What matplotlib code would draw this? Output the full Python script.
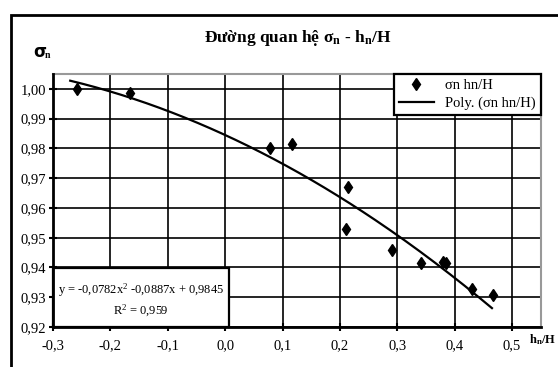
import numpy as np
import matplotlib
matplotlib.use("Agg")
import matplotlib.pyplot as plt
from matplotlib.patches import Rectangle

plt.rcParams['font.family'] = ['Liberation Serif', 'DejaVu Serif']
plt.rcParams['mathtext.fontset'] = 'custom'
plt.rcParams['mathtext.rm'] = 'Liberation Serif'
plt.rcParams['mathtext.it'] = 'Liberation Serif'
plt.rcParams['mathtext.bf'] = 'Liberation Serif:bold'

# data
x_pts = [-0.259, -0.166, 0.078, 0.116, 0.2145, 0.210, 0.290, 0.3405, 0.380, 0.385, 0.4295, 0.466]
y_pts = [1.000, 0.9986, 0.980, 0.9815, 0.967, 0.953, 0.946, 0.9415, 0.9418, 0.9415, 0.9328, 0.9308]
coef = [-0.0782, -0.0887, 0.9845]
x_ticks = [-0.3, -0.2, -0.1, 0.0, 0.1, 0.2, 0.3, 0.4, 0.5]
y_ticks = [0.92, 0.93, 0.94, 0.95, 0.96, 0.97, 0.98, 0.99, 1.00]

W, H = 558, 367
fig = plt.figure(figsize=(W/100, H/100), dpi=100)
axw, axh = 541-53, 327-74
ax = fig.add_axes([53/W, 1-327/H, axw/W, axh/H])

xs = np.linspace(-0.27, 0.465, 200)
ys = np.polyval(coef, xs)
ax.plot(xs, ys, color='black', lw=1.6, label='Poly. (σn hn/H)', zorder=3)
ax.plot(x_pts, y_pts, linestyle='none', marker='d', markersize=6, color='black',
        label='σn hn/H', zorder=4)

ax.set_xlim(-0.3, 0.5505)
ax.set_ylim(0.92, 1.005)
ax.set_xticks(x_ticks)
ax.set_yticks(y_ticks)
ax.set_xticklabels([f"{v:.1f}".replace('.', ',') for v in x_ticks], fontsize=10.5)
ax.set_yticklabels([f"{v:.2f}".replace('.', ',') for v in y_ticks], fontsize=10.5)
ax.tick_params(direction='inout', length=6, width=1.5, pad=6)
ax.tick_params(axis='y', pad=2)
ax.grid(True, color='black', lw=1.2)
ax.set_axisbelow(True)
for s in ['left', 'bottom']:
    ax.spines[s].set_linewidth(2)
    ax.spines[s].set_color('black')
    ax.spines[s].set_zorder(6)
for s in ['top', 'right']:
    ax.spines[s].set_linewidth(1.5)
    ax.spines[s].set_color('#999999')

h, l = ax.get_legend_handles_labels()
leg = ax.legend(h[::-1], l[::-1], loc='upper right', bbox_to_anchor=(1.0, 1.0),
                fontsize=10.5, frameon=True, fancybox=False, edgecolor='black',
                framealpha=1, borderpad=0.35, handlelength=2.4, borderaxespad=0,
                labelspacing=0.3)
leg.get_frame().set_linewidth(1.6)

# equation box
bw, bh = 176/axw, 59/axh
ax.add_patch(Rectangle((0, 0), bw, bh, transform=ax.transAxes, fc='white', ec='black',
                       lw=1.6, zorder=5, clip_on=False))
ax.text(bw/2, bh*0.63, 'y = -0,0782x$^2$ -0,0887x + 0,9845', transform=ax.transAxes,
        fontsize=9, ha='center', va='center', zorder=6)
ax.text(bw/2, bh*0.27, '$\\mathregular{R^2}$ = 0,959', transform=ax.transAxes,
        fontsize=9, ha='center', va='center', zorder=6)

# outer frame
fig.patches.append(Rectangle((11/W, -0.1), 1.2, 1.1 - 15/H, transform=fig.transFigure,
                             fill=False, ec='black', lw=2, clip_on=False))

fig.text(298/W, 1-38/H, 'Đường quan hệ σ$\\mathbf{_n}$ - h$\\mathbf{_n}$/H', ha='center', va='center',
         fontsize=12.5, fontweight='bold')
fig.text(33/W, 1-52/H, 'σ', ha='left', va='center', fontsize=12, fontweight='bold', family='DejaVu Sans')
fig.text(45/W, 1-55/H, 'n', ha='left', va='center', fontsize=7, fontweight='bold')
fig.text(529/W, 1-340/H, 'h$\\mathbf{_n}$/H', ha='left', va='center', fontsize=9, fontweight='bold')

fig.savefig('out.png', dpi=100)
